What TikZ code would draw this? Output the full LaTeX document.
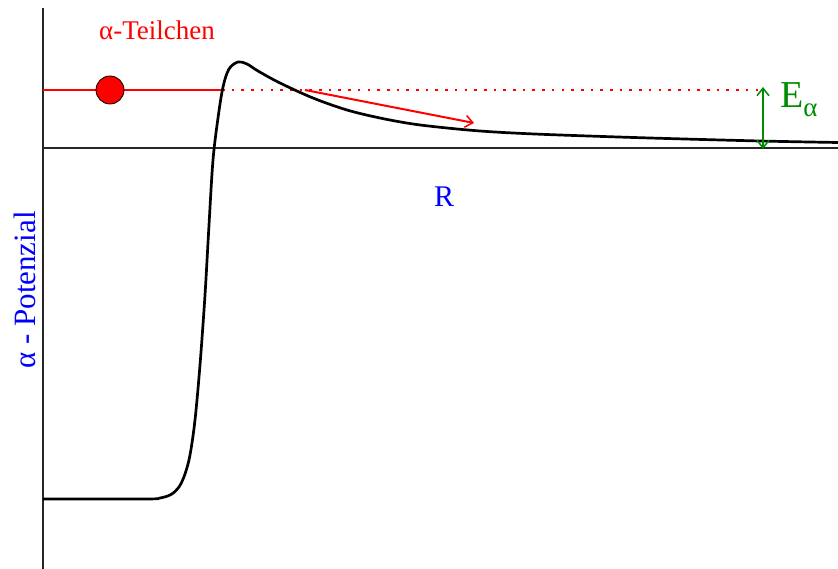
\documentclass[tikz,border=0pt]{standalone}
\usepackage{fontspec}
\setmainfont{Liberation Serif}
\usetikzlibrary{arrows.meta}
\definecolor{myred}{RGB}{255,0,0}
\definecolor{myblue}{RGB}{0,0,255}
\definecolor{mygreen}{RGB}{0,140,0}
\tikzset{mybarb/.tip={Straight Barb[length=7.5pt,width=12pt,line width=1.5pt]}}
\begin{document}
\begin{tikzpicture}[x=1pt,y=-1pt,
  axis/.style={line width=1.7pt, black!85},
  pot/.style={line width=2.7pt, black},
  lbl/.style={inner sep=0pt}]
\useasboundingbox (0,0) rectangle (838,569);
% axes
\coordinate (ytop) at (43,8);
\coordinate (ybot) at (43,569);
\coordinate (xl) at (43,148);
\coordinate (xr) at (838,148);
\draw[axis] (ytop) -- (ybot);
\draw[axis] (xl) -- (xr);
% energy level
\coordinate (e0) at (43,90);
\coordinate (e1) at (222,90);
\coordinate (e2) at (763,90);
\draw[myred, line width=2pt] (e0) -- (e1);
\draw[myred, line width=2.6pt, dash pattern=on 2.6pt off 7.1pt] (e1) -- (e2);
% potential
\draw[pot] plot[smooth, tension=0.55] coordinates {
(43,499) (145,499) (160,498) (171,494.5) (179,487) (185,474) (190,455) (195,420) (200,365) (205,295) (209,225) (213,160) (218,118) (223,87) (229,69) (238,62) (247,64) (258,71) (280,83) (313,98) (347,110) (380,118) (413,124) (447,128) (480,131) (513,133) (560,135) (650,138) (760,141) (838,142.5)};
% particle
\node[circle, draw=black, line width=0.8pt, fill=myred, minimum size=28pt, inner sep=0pt] (p) at (110,90) {};
\node[lbl, text=myred, anchor=base, font=\fontsize{27}{30}\selectfont] (plabel) at (157,40) {α-Teilchen};
% tunnel arrow
\coordinate (a0) at (305,90);
\coordinate (a1) at (474,123);
\draw[myred, line width=2pt, -{mybarb}] (a0) -- (a1);
% energy arrow
\coordinate (g0) at (763,149);
\coordinate (g1) at (763,87);
\draw[mygreen, line width=2pt, {mybarb}-{mybarb}] (g0) -- (g1);
\node[lbl, text=mygreen, anchor=base west, font=\fontsize{38}{40}\selectfont] (elabel) at (780,108) {E\raisebox{-9pt}{\fontsize{27}{30}\selectfont α}};
% labels
\node[lbl, text=myblue, anchor=base, font=\fontsize{30}{32}\selectfont] (rlabel) at (444,207) {R};
\node[lbl, text=myblue, rotate=90, anchor=base, font=\fontsize{31}{34}\selectfont] (vlabel) at (35,290) {α - Potenzial};
\end{tikzpicture}
\end{document}
